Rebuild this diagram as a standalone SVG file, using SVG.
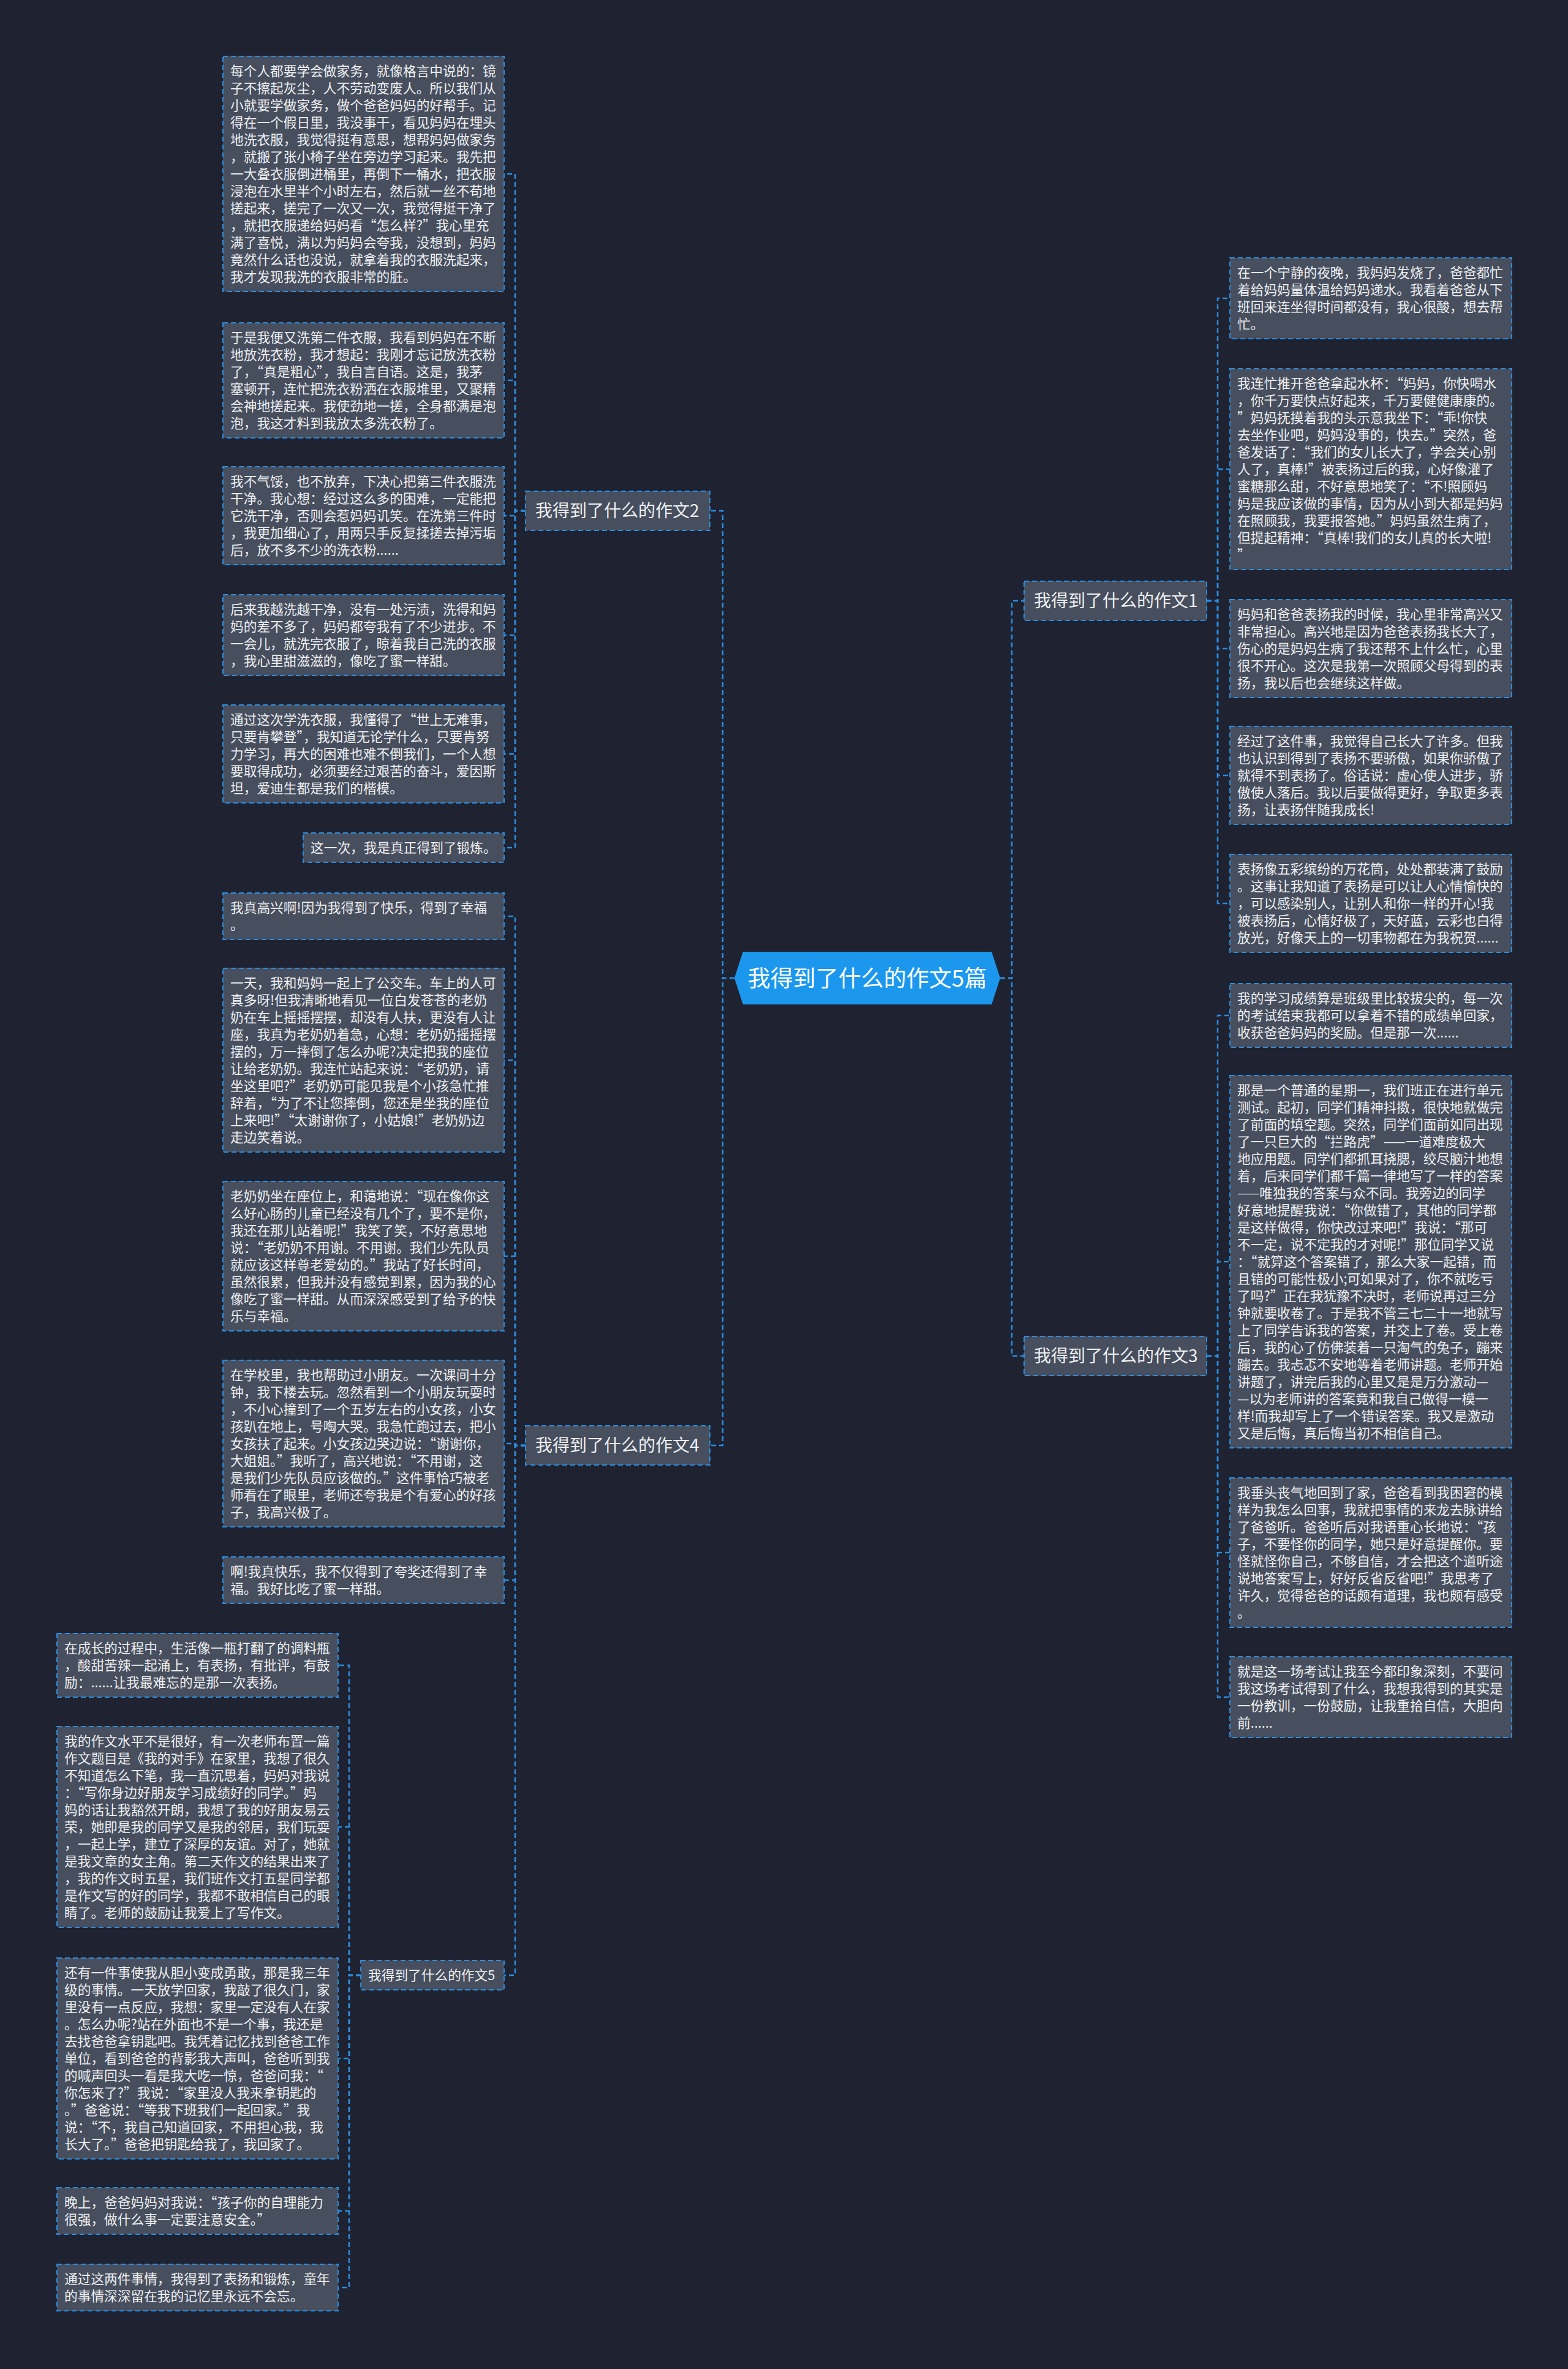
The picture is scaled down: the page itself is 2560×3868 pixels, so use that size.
<svg xmlns="http://www.w3.org/2000/svg" width="2560" height="3868" viewBox="0 0 2560 3868">
<style>
.bx{fill:#474e5d;stroke:#2a8de0;stroke-width:2;stroke-dasharray:8 5}
.t{font-family:"Noto Sans CJK SC","Noto Sans",sans-serif;font-size:21.7px;fill:#eef0f3}
.bt{font-family:"Noto Sans CJK SC","Noto Sans",sans-serif;font-size:28px;fill:#eef0f3}
.ct{font-family:"Noto Sans CJK SC","Noto Sans",sans-serif;font-size:37px;fill:#ffffff}
.c{fill:none;stroke:#2a8de0;stroke-width:2.5;stroke-dasharray:8 5}
</style>
<rect width="2560" height="3868" fill="#1f2230"/>
<g id="connectors">
<path class="c" d="M1199 1597 H1180 V834 H1159"/>
<path class="c" d="M1199 1597 H1180 V2360 H1159"/>
<path class="c" d="M1633 1597 H1652 V981 H1672"/>
<path class="c" d="M1633 1597 H1652 V2214 H1672"/>
<path class="c" d="M858 834 H841 V284 H823"/>
<path class="c" d="M858 834 H841 V621 H823"/>
<path class="c" d="M858 834 H841 V842 H823"/>
<path class="c" d="M858 834 H841 V1037 H823"/>
<path class="c" d="M858 834 H841 V1231 H823"/>
<path class="c" d="M858 834 H841 V1384 H823"/>
<path class="c" d="M858 2360 H841 V1496 H823"/>
<path class="c" d="M858 2360 H841 V1731 H823"/>
<path class="c" d="M858 2360 H841 V2051 H823"/>
<path class="c" d="M858 2360 H841 V2357 H823"/>
<path class="c" d="M858 2360 H841 V2580 H823"/>
<path class="c" d="M858 2360 H841 V3225 H823"/>
<path class="c" d="M589 3225 H570 V2719 H552"/>
<path class="c" d="M589 3225 H570 V2983 H552"/>
<path class="c" d="M589 3225 H570 V3361 H552"/>
<path class="c" d="M589 3225 H570 V3610 H552"/>
<path class="c" d="M589 3225 H570 V3735 H552"/>
<path class="c" d="M1970 981 H1988 V487 H2008"/>
<path class="c" d="M1970 981 H1988 V766 H2008"/>
<path class="c" d="M1970 981 H1988 V1059 H2008"/>
<path class="c" d="M1970 981 H1988 V1266 H2008"/>
<path class="c" d="M1970 981 H1988 V1475 H2008"/>
<path class="c" d="M1970 2214 H1988 V1658 H2008"/>
<path class="c" d="M1970 2214 H1988 V2060 H2008"/>
<path class="c" d="M1970 2214 H1988 V2535 H2008"/>
<path class="c" d="M1970 2214 H1988 V2771 H2008"/>
</g>
<g id="center">
<polygon points="1199,1597 1213,1554 1619,1554 1633,1597 1619,1640 1213,1640" fill="#1b98ee"/>
<text class="ct" x="1416" y="1611" text-anchor="middle">我得到了什么的作文5篇</text>
</g>
<g id="n1"><rect class="bx" x="1672" y="949" width="298" height="64"/><text class="bt" x="1688" y="991">我得到了什么的作文1</text></g>
<g id="n2"><rect class="bx" x="858" y="802" width="301" height="64"/><text class="bt" x="874" y="844">我得到了什么的作文2</text></g>
<g id="n3"><rect class="bx" x="1672" y="2182" width="298" height="64"/><text class="bt" x="1688" y="2224">我得到了什么的作文3</text></g>
<g id="n4"><rect class="bx" x="858" y="2328" width="301" height="64"/><text class="bt" x="874" y="2370">我得到了什么的作文4</text></g>
<g id="n5"><rect class="bx" x="589" y="3201" width="234" height="48"/><text class="t" x="601" y="3233">我得到了什么的作文5</text></g>

<g id="b1"><rect class="bx" x="364" y="92" width="459" height="384"/><text class="t" x="376" y="124"><tspan x="376">每个人都要学会做家务，就像格言中说的：镜</tspan><tspan x="376" dy="28">子不擦起灰尘，人不劳动变废人。所以我们从</tspan><tspan x="376" dy="28">小就要学做家务，做个爸爸妈妈的好帮手。记</tspan><tspan x="376" dy="28">得在一个假日里，我没事干，看见妈妈在埋头</tspan><tspan x="376" dy="28">地洗衣服，我觉得挺有意思，想帮妈妈做家务</tspan><tspan x="376" dy="28">，就搬了张小椅子坐在旁边学习起来。我先把</tspan><tspan x="376" dy="28">一大叠衣服倒进桶里，再倒下一桶水，把衣服</tspan><tspan x="376" dy="28">浸泡在水里半个小时左右，然后就一丝不苟地</tspan><tspan x="376" dy="28">搓起来，搓完了一次又一次，我觉得挺干净了</tspan><tspan x="376" dy="28">，就把衣服递给妈妈看“怎么样?”我心里充</tspan><tspan x="376" dy="28">满了喜悦，满以为妈妈会夸我，没想到，妈妈</tspan><tspan x="376" dy="28">竟然什么话也没说，就拿着我的衣服洗起来，</tspan><tspan x="376" dy="28">我才发现我洗的衣服非常的脏。</tspan></text></g>
<g id="b2"><rect class="bx" x="364" y="527" width="459" height="188"/><text class="t" x="376" y="559"><tspan x="376">于是我便又洗第二件衣服，我看到妈妈在不断</tspan><tspan x="376" dy="28">地放洗衣粉，我才想起：我刚才忘记放洗衣粉</tspan><tspan x="376" dy="28">了，“真是粗心”，我自言自语。这是，我茅</tspan><tspan x="376" dy="28">塞顿开，连忙把洗衣粉洒在衣服堆里，又聚精</tspan><tspan x="376" dy="28">会神地搓起来。我使劲地一搓，全身都满是泡</tspan><tspan x="376" dy="28">泡，我这才料到我放太多洗衣粉了。</tspan></text></g>
<g id="b3"><rect class="bx" x="364" y="762" width="459" height="160"/><text class="t" x="376" y="794"><tspan x="376">我不气馁，也不放弃，下决心把第三件衣服洗</tspan><tspan x="376" dy="28">干净。我心想：经过这么多的困难，一定能把</tspan><tspan x="376" dy="28">它洗干净，否则会惹妈妈讥笑。在洗第三件时</tspan><tspan x="376" dy="28">，我更加细心了，用两只手反复揉搓去掉污垢</tspan><tspan x="376" dy="28">后，放不多不少的洗衣粉......</tspan></text></g>
<g id="b4"><rect class="bx" x="364" y="971" width="459" height="132"/><text class="t" x="376" y="1003"><tspan x="376">后来我越洗越干净，没有一处污渍，洗得和妈</tspan><tspan x="376" dy="28">妈的差不多了，妈妈都夸我有了不少进步。不</tspan><tspan x="376" dy="28">一会儿，就洗完衣服了，晾着我自己洗的衣服</tspan><tspan x="376" dy="28">，我心里甜滋滋的，像吃了蜜一样甜。</tspan></text></g>
<g id="b5"><rect class="bx" x="364" y="1151" width="459" height="160"/><text class="t" x="376" y="1183"><tspan x="376">通过这次学洗衣服，我懂得了“世上无难事，</tspan><tspan x="376" dy="28">只要肯攀登”，我知道无论学什么，只要肯努</tspan><tspan x="376" dy="28">力学习，再大的困难也难不倒我们，一个人想</tspan><tspan x="376" dy="28">要取得成功，必须要经过艰苦的奋斗，爱因斯</tspan><tspan x="376" dy="28">坦，爱迪生都是我们的楷模。</tspan></text></g>
<g id="b6"><rect class="bx" x="495" y="1360" width="328" height="48"/><text class="t" x="507" y="1392">这一次，我是真正得到了锻炼。</text></g>

<g id="b7"><rect class="bx" x="364" y="1458" width="459" height="76"/><text class="t" x="376" y="1490"><tspan x="376">我真高兴啊!因为我得到了快乐，得到了幸福</tspan><tspan x="376" dy="28">。</tspan></text></g>
<g id="b8"><rect class="bx" x="364" y="1581" width="459" height="300"/><text class="t" x="376" y="1613"><tspan x="376">一天，我和妈妈一起上了公交车。车上的人可</tspan><tspan x="376" dy="28">真多呀!但我清晰地看见一位白发苍苍的老奶</tspan><tspan x="376" dy="28">奶在车上摇摇摆摆，却没有人扶，更没有人让</tspan><tspan x="376" dy="28">座，我真为老奶奶着急，心想：老奶奶摇摇摆</tspan><tspan x="376" dy="28">摆的，万一摔倒了怎么办呢?决定把我的座位</tspan><tspan x="376" dy="28">让给老奶奶。我连忙站起来说：“老奶奶，请</tspan><tspan x="376" dy="28">坐这里吧?”老奶奶可能见我是个小孩急忙推</tspan><tspan x="376" dy="28">辞着，“为了不让您摔倒，您还是坐我的座位</tspan><tspan x="376" dy="28">上来吧!”“太谢谢你了，小姑娘!”老奶奶边</tspan><tspan x="376" dy="28">走边笑着说。</tspan></text></g>
<g id="b9"><rect class="bx" x="364" y="1929" width="459" height="244"/><text class="t" x="376" y="1961"><tspan x="376">老奶奶坐在座位上，和蔼地说：“现在像你这</tspan><tspan x="376" dy="28">么好心肠的儿童已经没有几个了，要不是你，</tspan><tspan x="376" dy="28">我还在那儿站着呢!”我笑了笑，不好意思地</tspan><tspan x="376" dy="28">说：“老奶奶不用谢。不用谢。我们少先队员</tspan><tspan x="376" dy="28">就应该这样尊老爱幼的。”我站了好长时间，</tspan><tspan x="376" dy="28">虽然很累，但我并没有感觉到累，因为我的心</tspan><tspan x="376" dy="28">像吃了蜜一样甜。从而深深感受到了给予的快</tspan><tspan x="376" dy="28">乐与幸福。</tspan></text></g>
<g id="b10"><rect class="bx" x="364" y="2221" width="459" height="272"/><text class="t" x="376" y="2253"><tspan x="376">在学校里，我也帮助过小朋友。一次课间十分</tspan><tspan x="376" dy="28">钟，我下楼去玩。忽然看到一个小朋友玩耍时</tspan><tspan x="376" dy="28">，不小心撞到了一个五岁左右的小女孩，小女</tspan><tspan x="376" dy="28">孩趴在地上，号啕大哭。我急忙跑过去，把小</tspan><tspan x="376" dy="28">女孩扶了起来。小女孩边哭边说：“谢谢你，</tspan><tspan x="376" dy="28">大姐姐。”我听了，高兴地说：“不用谢，这</tspan><tspan x="376" dy="28">是我们少先队员应该做的。”这件事恰巧被老</tspan><tspan x="376" dy="28">师看在了眼里，老师还夸我是个有爱心的好孩</tspan><tspan x="376" dy="28">子，我高兴极了。</tspan></text></g>
<g id="b11"><rect class="bx" x="364" y="2542" width="459" height="76"/><text class="t" x="376" y="2574"><tspan x="376">啊!我真快乐，我不仅得到了夸奖还得到了幸</tspan><tspan x="376" dy="28">福。我好比吃了蜜一样甜。</tspan></text></g>

<g id="b12"><rect class="bx" x="93" y="2667" width="459" height="104"/><text class="t" x="105" y="2699"><tspan x="105">在成长的过程中，生活像一瓶打翻了的调料瓶</tspan><tspan x="105" dy="28">，酸甜苦辣一起涌上，有表扬，有批评，有鼓</tspan><tspan x="105" dy="28">励：......让我最难忘的是那一次表扬。</tspan></text></g>
<g id="b13"><rect class="bx" x="93" y="2819" width="459" height="328"/><text class="t" x="105" y="2851"><tspan x="105">我的作文水平不是很好，有一次老师布置一篇</tspan><tspan x="105" dy="28">作文题目是《我的对手》在家里，我想了很久</tspan><tspan x="105" dy="28">不知道怎么下笔，我一直沉思着，妈妈对我说</tspan><tspan x="105" dy="28">：“写你身边好朋友学习成绩好的同学。”妈</tspan><tspan x="105" dy="28">妈的话让我豁然开朗，我想了我的好朋友易云</tspan><tspan x="105" dy="28">荣，她即是我的同学又是我的邻居，我们玩耍</tspan><tspan x="105" dy="28">，一起上学，建立了深厚的友谊。对了，她就</tspan><tspan x="105" dy="28">是我文章的女主角。第二天作文的结果出来了</tspan><tspan x="105" dy="28">，我的作文时五星，我们班作文打五星同学都</tspan><tspan x="105" dy="28">是作文写的好的同学，我都不敢相信自己的眼</tspan><tspan x="105" dy="28">睛了。老师的鼓励让我爱上了写作文。</tspan></text></g>
<g id="b14"><rect class="bx" x="93" y="3197" width="459" height="328"/><text class="t" x="105" y="3229"><tspan x="105">还有一件事使我从胆小变成勇敢，那是我三年</tspan><tspan x="105" dy="28">级的事情。一天放学回家，我敲了很久门，家</tspan><tspan x="105" dy="28">里没有一点反应，我想：家里一定没有人在家</tspan><tspan x="105" dy="28">。怎么办呢?站在外面也不是一个事，我还是</tspan><tspan x="105" dy="28">去找爸爸拿钥匙吧。我凭着记忆找到爸爸工作</tspan><tspan x="105" dy="28">单位，看到爸爸的背影我大声叫，爸爸听到我</tspan><tspan x="105" dy="28">的喊声回头一看是我大吃一惊，爸爸问我：“</tspan><tspan x="105" dy="28">你怎来了?”我说：“家里没人我来拿钥匙的</tspan><tspan x="105" dy="28">。”爸爸说：“等我下班我们一起回家。”我</tspan><tspan x="105" dy="28">说：“不，我自己知道回家，不用担心我，我</tspan><tspan x="105" dy="28">长大了。”爸爸把钥匙给我了，我回家了。</tspan></text></g>
<g id="b15"><rect class="bx" x="93" y="3572" width="459" height="76"/><text class="t" x="105" y="3604"><tspan x="105">晚上，爸爸妈妈对我说：“孩子你的自理能力</tspan><tspan x="105" dy="28">很强，做什么事一定要注意安全。”</tspan></text></g>
<g id="b16"><rect class="bx" x="93" y="3697" width="459" height="76"/><text class="t" x="105" y="3729"><tspan x="105">通过这两件事情，我得到了表扬和锻炼，童年</tspan><tspan x="105" dy="28">的事情深深留在我的记忆里永远不会忘。</tspan></text></g>

<g id="r1"><rect class="bx" x="2008" y="421" width="460" height="132"/><text class="t" x="2020" y="453"><tspan x="2020">在一个宁静的夜晚，我妈妈发烧了，爸爸都忙</tspan><tspan x="2020" dy="28">着给妈妈量体温给妈妈递水。我看着爸爸从下</tspan><tspan x="2020" dy="28">班回来连坐得时间都没有，我心很酸，想去帮</tspan><tspan x="2020" dy="28">忙。</tspan></text></g>
<g id="r2"><rect class="bx" x="2008" y="602" width="460" height="328"/><text class="t" x="2020" y="634"><tspan x="2020">我连忙推开爸爸拿起水杯：“妈妈，你快喝水</tspan><tspan x="2020" dy="28">，你千万要快点好起来，千万要健健康康的。</tspan><tspan x="2020" dy="28">”妈妈抚摸着我的头示意我坐下：“乖!你快</tspan><tspan x="2020" dy="28">去坐作业吧，妈妈没事的，快去。”突然，爸</tspan><tspan x="2020" dy="28">爸发话了：“我们的女儿长大了，学会关心别</tspan><tspan x="2020" dy="28">人了，真棒!”被表扬过后的我，心好像灌了</tspan><tspan x="2020" dy="28">蜜糖那么甜，不好意思地笑了：“不!照顾妈</tspan><tspan x="2020" dy="28">妈是我应该做的事情，因为从小到大都是妈妈</tspan><tspan x="2020" dy="28">在照顾我，我要报答她。”妈妈虽然生病了，</tspan><tspan x="2020" dy="28">但提起精神：“真棒!我们的女儿真的长大啦!</tspan><tspan x="2020" dy="28">”</tspan></text></g>
<g id="r3"><rect class="bx" x="2008" y="979" width="460" height="160"/><text class="t" x="2020" y="1011"><tspan x="2020">妈妈和爸爸表扬我的时候，我心里非常高兴又</tspan><tspan x="2020" dy="28">非常担心。高兴地是因为爸爸表扬我长大了，</tspan><tspan x="2020" dy="28">伤心的是妈妈生病了我还帮不上什么忙，心里</tspan><tspan x="2020" dy="28">很不开心。这次是我第一次照顾父母得到的表</tspan><tspan x="2020" dy="28">扬，我以后也会继续这样做。</tspan></text></g>
<g id="r4"><rect class="bx" x="2008" y="1186" width="460" height="160"/><text class="t" x="2020" y="1218"><tspan x="2020">经过了这件事，我觉得自己长大了许多。但我</tspan><tspan x="2020" dy="28">也认识到得到了表扬不要骄傲，如果你骄傲了</tspan><tspan x="2020" dy="28">就得不到表扬了。俗话说：虚心使人进步，骄</tspan><tspan x="2020" dy="28">傲使人落后。我以后要做得更好，争取更多表</tspan><tspan x="2020" dy="28">扬，让表扬伴随我成长!</tspan></text></g>
<g id="r5"><rect class="bx" x="2008" y="1395" width="460" height="160"/><text class="t" x="2020" y="1427"><tspan x="2020">表扬像五彩缤纷的万花筒，处处都装满了鼓励</tspan><tspan x="2020" dy="28">。这事让我知道了表扬是可以让人心情愉快的</tspan><tspan x="2020" dy="28">，可以感染别人，让别人和你一样的开心!我</tspan><tspan x="2020" dy="28">被表扬后，心情好极了，天好蓝，云彩也白得</tspan><tspan x="2020" dy="28">放光，好像天上的一切事物都在为我祝贺......</tspan></text></g>

<g id="r6"><rect class="bx" x="2008" y="1606" width="460" height="104"/><text class="t" x="2020" y="1638"><tspan x="2020">我的学习成绩算是班级里比较拔尖的，每一次</tspan><tspan x="2020" dy="28">的考试结束我都可以拿着不错的成绩单回家，</tspan><tspan x="2020" dy="28">收获爸爸妈妈的奖励。但是那一次......</tspan></text></g>
<g id="r7"><rect class="bx" x="2008" y="1756" width="460" height="608"/><text class="t" x="2020" y="1788"><tspan x="2020">那是一个普通的星期一，我们班正在进行单元</tspan><tspan x="2020" dy="28">测试。起初，同学们精神抖擞，很快地就做完</tspan><tspan x="2020" dy="28">了前面的填空题。突然，同学们面前如同出现</tspan><tspan x="2020" dy="28">了一只巨大的“拦路虎”——一道难度极大</tspan><tspan x="2020" dy="28">地应用题。同学们都抓耳挠腮，绞尽脑汁地想</tspan><tspan x="2020" dy="28">着，后来同学们都千篇一律地写了一样的答案</tspan><tspan x="2020" dy="28">——唯独我的答案与众不同。我旁边的同学</tspan><tspan x="2020" dy="28">好意地提醒我说：“你做错了，其他的同学都</tspan><tspan x="2020" dy="28">是这样做得，你快改过来吧!”我说：“那可</tspan><tspan x="2020" dy="28">不一定，说不定我的才对呢!”那位同学又说</tspan><tspan x="2020" dy="28">：“就算这个答案错了，那么大家一起错，而</tspan><tspan x="2020" dy="28">且错的可能性极小;可如果对了，你不就吃亏</tspan><tspan x="2020" dy="28">了吗?”正在我犹豫不决时，老师说再过三分</tspan><tspan x="2020" dy="28">钟就要收卷了。于是我不管三七二十一地就写</tspan><tspan x="2020" dy="28">上了同学告诉我的答案，并交上了卷。受上卷</tspan><tspan x="2020" dy="28">后，我的心了仿佛装着一只淘气的兔子，蹦来</tspan><tspan x="2020" dy="28">蹦去。我忐忑不安地等着老师讲题。老师开始</tspan><tspan x="2020" dy="28">讲题了，讲完后我的心里又是是万分激动—</tspan><tspan x="2020" dy="28">—以为老师讲的答案竟和我自己做得一模一</tspan><tspan x="2020" dy="28">样!而我却写上了一个错误答案。我又是激动</tspan><tspan x="2020" dy="28">又是后悔，真后悔当初不相信自己。</tspan></text></g>
<g id="r8"><rect class="bx" x="2008" y="2413" width="460" height="244"/><text class="t" x="2020" y="2445"><tspan x="2020">我垂头丧气地回到了家，爸爸看到我困窘的模</tspan><tspan x="2020" dy="28">样为我怎么回事，我就把事情的来龙去脉讲给</tspan><tspan x="2020" dy="28">了爸爸听。爸爸听后对我语重心长地说：“孩</tspan><tspan x="2020" dy="28">子，不要怪你的同学，她只是好意提醒你。要</tspan><tspan x="2020" dy="28">怪就怪你自己，不够自信，才会把这个道听途</tspan><tspan x="2020" dy="28">说地答案写上，好好反省反省吧!”我思考了</tspan><tspan x="2020" dy="28">许久，觉得爸爸的话颇有道理，我也颇有感受</tspan><tspan x="2020" dy="28">。</tspan></text></g>
<g id="r9"><rect class="bx" x="2008" y="2705" width="460" height="132"/><text class="t" x="2020" y="2737"><tspan x="2020">就是这一场考试让我至今都印象深刻，不要问</tspan><tspan x="2020" dy="28">我这场考试得到了什么，我想我得到的其实是</tspan><tspan x="2020" dy="28">一份教训，一份鼓励，让我重拾自信，大胆向</tspan><tspan x="2020" dy="28">前......</tspan></text></g>
</svg>
